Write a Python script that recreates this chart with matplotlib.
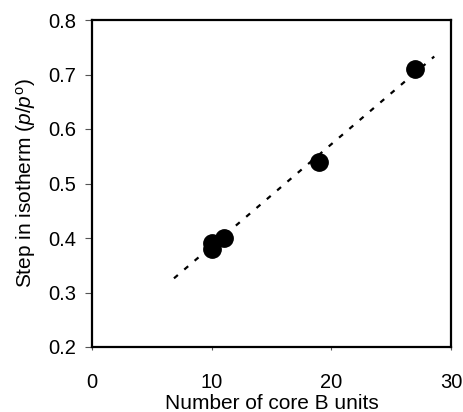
import numpy as np
import matplotlib
matplotlib.use("Agg")
import matplotlib.pyplot as plt

# data
n_units = [10, 10, 11, 19, 27]
step_p = [0.39, 0.38, 0.40, 0.54, 0.71]
fit_x = [6.85, 28.6]
fit_y = [0.326, 0.733]

xticks = [0, 10, 20, 30]
yticks = [0.2, 0.3, 0.4, 0.5, 0.6, 0.7, 0.8]

plt.rcParams['font.family'] = ['Liberation Sans', 'DejaVu Sans']
plt.rcParams['mathtext.fontset'] = 'custom'
plt.rcParams['mathtext.rm'] = 'Liberation Sans'
plt.rcParams['mathtext.it'] = 'Liberation Sans:italic'

fig = plt.figure(figsize=(4.63, 4.12), dpi=100)
ax = fig.add_axes([92/463, 1-347/412, (451-92)/463, (347-20)/412])

ax.plot(fit_x, fit_y, color='black', lw=1.6, linestyle=(0, (2.3, 3.8)))
ax.plot(n_units, step_p, 'o', color='black', markersize=12.5)

ax.set_xlim(0, 30)
ax.set_ylim(0.2, 0.8)
ax.set_xticks(xticks)
ax.set_yticks(yticks)
ax.set_yticklabels(['%.1f' % v for v in yticks])
for s in ax.spines.values():
    s.set_linewidth(1.6)
ax.tick_params(axis='y', direction='out', length=5, width=0.8, color='#555555',
               labelsize=14.5, pad=6.5)
ax.tick_params(axis='x', direction='out', length=2, width=0.8, color='#555555',
               labelsize=14.5, pad=17)

ax.set_xlabel('Number of core B units', fontsize=15, labelpad=1)
ax.set_ylabel(r'Step in isotherm ($p/p^{\mathrm{o}}$)', fontsize=15, labelpad=7)

fig.savefig('out.png', dpi=100)
